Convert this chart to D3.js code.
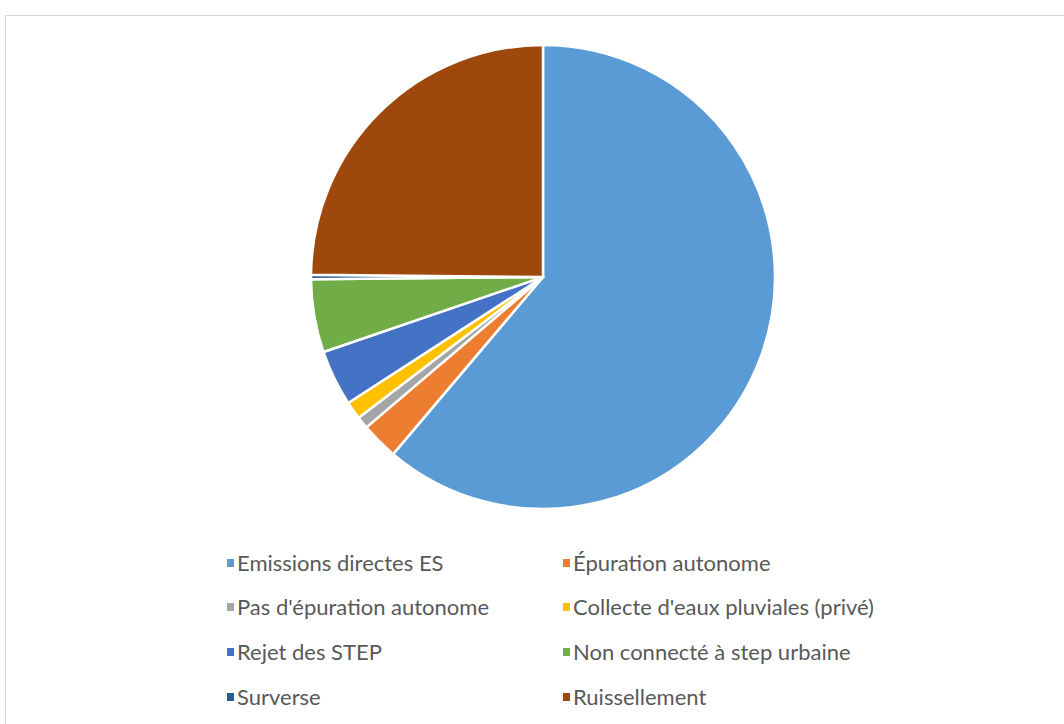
<!DOCTYPE html>
<html><head><meta charset="utf-8">
<script src="https://cdn.jsdelivr.net/npm/d3@7"></script>
<style>body{margin:0;background:#fff}svg{display:block}</style>
</head><body>
<script>
const categories = ["Emissions directes ES","Épuration autonome","Pas d'épuration autonome","Collecte d'eaux pluviales (privé)","Rejet des STEP","Non connecté à step urbaine","Surverse","Ruissellement"];
const values = [61.3, 2.6, 0.85, 1.25, 3.9, 5.1, 0.3, 24.9];
const colors = ["#5B9BD5","#ED7D31","#A5A5A5","#FFC000","#4472C4","#70AD47","#255E91","#9E480E"];

const W = 1064, H = 724;
const svg = d3.select("body").append("svg").attr("width", W).attr("height", H);
svg.append("rect").attr("x", 5.5).attr("y", 15.5).attr("width", 1200).attr("height", 900)
  .attr("fill", "#fff").attr("stroke", "#d9d9d9");

const cx = 543, cy = 277, r = 232;
const pie = d3.pie().sort(null).value(d => d.v);
const arc = d3.arc().innerRadius(0).outerRadius(r);
const data = categories.map((c, i) => ({c, v: values[i], col: colors[i]}));
const g = svg.append("g").attr("transform", `translate(${cx},${cy})`);
g.selectAll("path").data(pie(data)).join("path")
  .attr("d", arc).attr("fill", d => d.data.col)
  .attr("stroke", "#fff").attr("stroke-width", 2.5).attr("stroke-linejoin", "round");

const leg = svg.append("g");
const colX = [227, 563], rowY = [563, 607, 652, 697];
data.forEach((d, i) => {
  const x = colX[i % 2], y = rowY[Math.floor(i / 2)];
  leg.append("rect").attr("x", x).attr("y", y - 4).attr("width", 7).attr("height", 8).attr("fill", d.col);
  leg.append("text").attr("x", x + 10).attr("y", y).attr("dy", "0.35em")
    .attr("font-family", "Lato, 'Liberation Sans', sans-serif").attr("font-size", 22)
    .attr("fill", "#595959").text(d.c);
});
</script>
</body></html>
